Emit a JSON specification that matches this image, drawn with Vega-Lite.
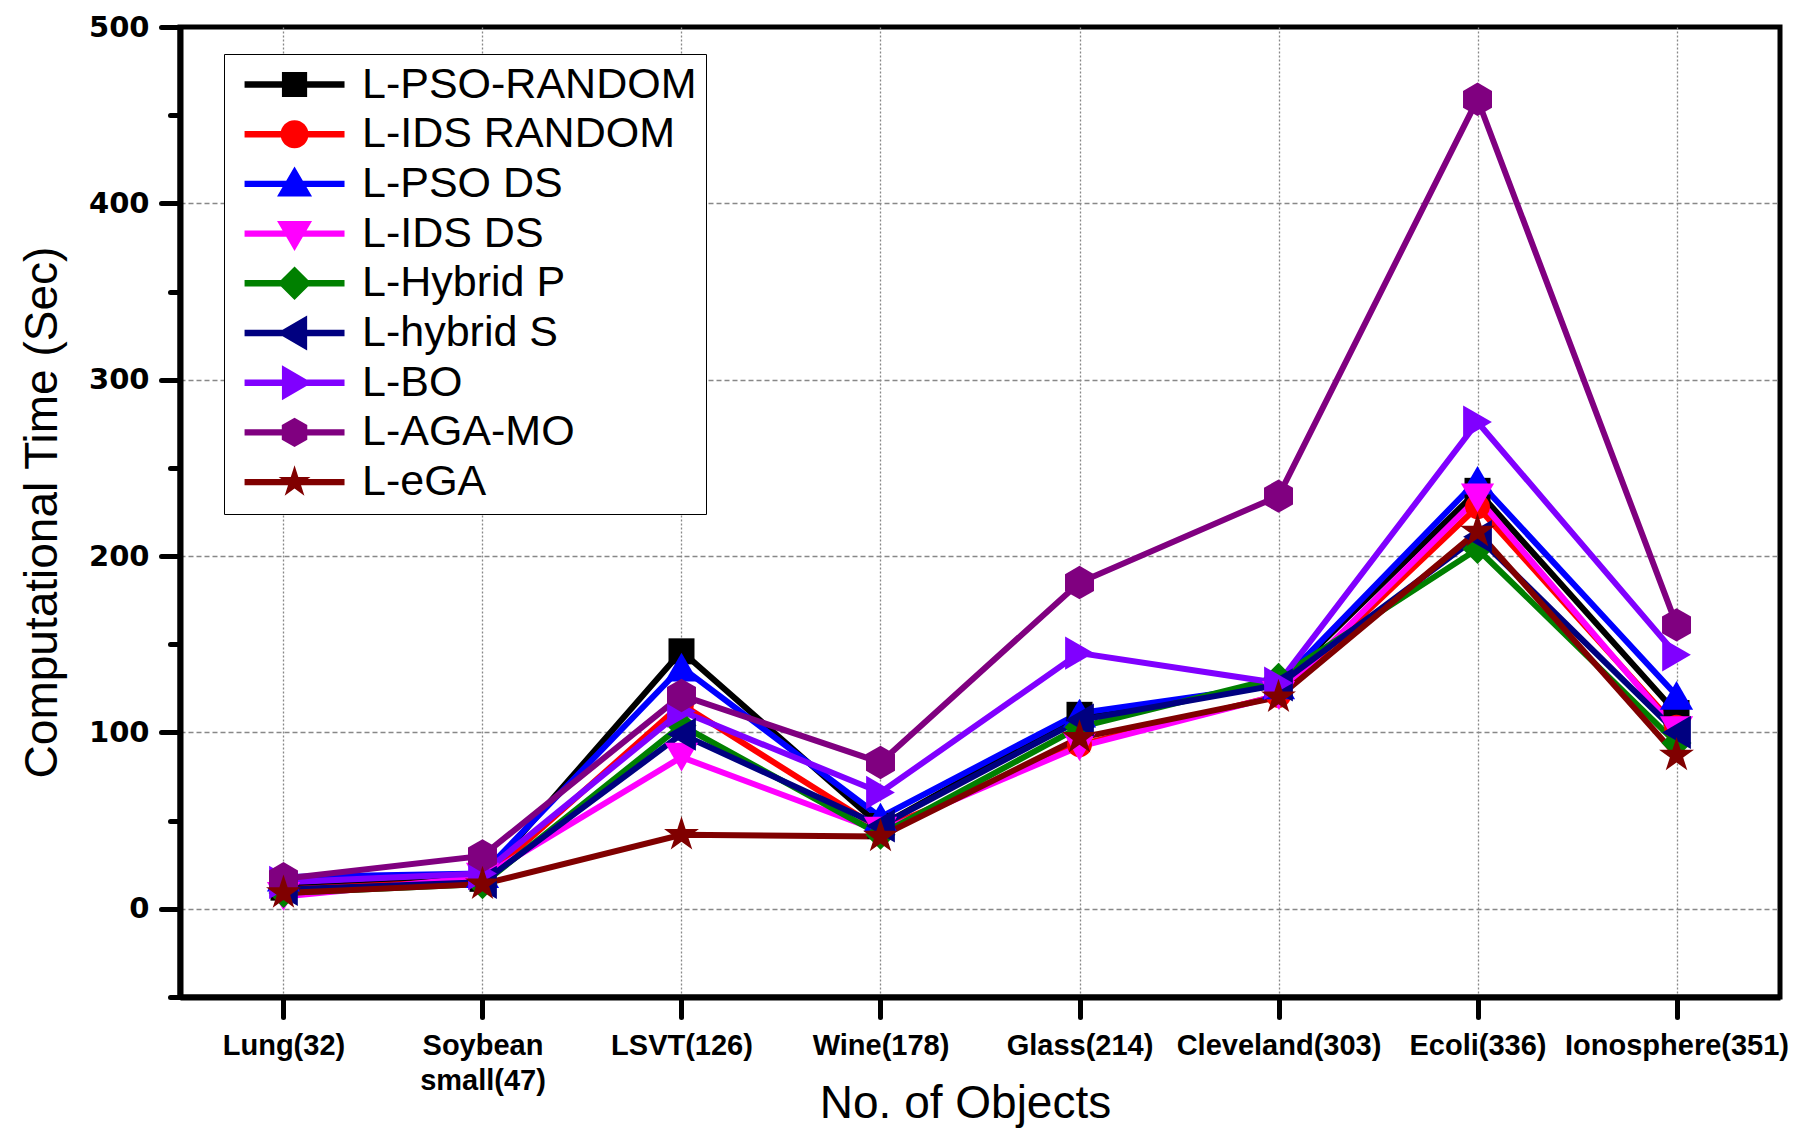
{
  "$schema": "https://vega.github.io/schema/vega-lite/v6.json",
  "autosize": "none",
  "width": 1600,
  "height": 970,
  "padding": {"left": 180, "top": 27, "right": 38, "bottom": 131},
  "background": "white",
  "config": {
    "view": {"stroke": "black", "strokeWidth": 5},
    "font": "Liberation Sans"
  },
  "data": {
    "values": [
      {"obj": "Lung(32)", "method": "L-PSO-RANDOM", "t": 12},
      {"obj": "Lung(32)", "method": "L-IDS RANDOM", "t": 11},
      {"obj": "Lung(32)", "method": "L-PSO DS", "t": 18},
      {"obj": "Lung(32)", "method": "L-IDS DS", "t": 7},
      {"obj": "Lung(32)", "method": "L-Hybrid P", "t": 9},
      {"obj": "Lung(32)", "method": "L-hybrid S", "t": 11},
      {"obj": "Lung(32)", "method": "L-BO", "t": 15},
      {"obj": "Lung(32)", "method": "L-AGA-MO", "t": 17},
      {"obj": "Lung(32)", "method": "L-eGA", "t": 9},
      {"obj": "Soybean small(47)", "method": "L-PSO-RANDOM", "t": 17},
      {"obj": "Soybean small(47)", "method": "L-IDS RANDOM", "t": 16},
      {"obj": "Soybean small(47)", "method": "L-PSO DS", "t": 20},
      {"obj": "Soybean small(47)", "method": "L-IDS DS", "t": 18},
      {"obj": "Soybean small(47)", "method": "L-Hybrid P", "t": 14},
      {"obj": "Soybean small(47)", "method": "L-hybrid S", "t": 15},
      {"obj": "Soybean small(47)", "method": "L-BO", "t": 20},
      {"obj": "Soybean small(47)", "method": "L-AGA-MO", "t": 30},
      {"obj": "Soybean small(47)", "method": "L-eGA", "t": 14},
      {"obj": "LSVT(126)", "method": "L-PSO-RANDOM", "t": 146},
      {"obj": "LSVT(126)", "method": "L-IDS RANDOM", "t": 116},
      {"obj": "LSVT(126)", "method": "L-PSO DS", "t": 137},
      {"obj": "LSVT(126)", "method": "L-IDS DS", "t": 86},
      {"obj": "LSVT(126)", "method": "L-Hybrid P", "t": 104},
      {"obj": "LSVT(126)", "method": "L-hybrid S", "t": 99},
      {"obj": "LSVT(126)", "method": "L-BO", "t": 112},
      {"obj": "LSVT(126)", "method": "L-AGA-MO", "t": 121},
      {"obj": "LSVT(126)", "method": "L-eGA", "t": 42},
      {"obj": "Wine(178)", "method": "L-PSO-RANDOM", "t": 47},
      {"obj": "Wine(178)", "method": "L-IDS RANDOM", "t": 45},
      {"obj": "Wine(178)", "method": "L-PSO DS", "t": 52},
      {"obj": "Wine(178)", "method": "L-IDS DS", "t": 44},
      {"obj": "Wine(178)", "method": "L-Hybrid P", "t": 42},
      {"obj": "Wine(178)", "method": "L-hybrid S", "t": 47},
      {"obj": "Wine(178)", "method": "L-BO", "t": 66},
      {"obj": "Wine(178)", "method": "L-AGA-MO", "t": 83},
      {"obj": "Wine(178)", "method": "L-eGA", "t": 41},
      {"obj": "Glass(214)", "method": "L-PSO-RANDOM", "t": 110},
      {"obj": "Glass(214)", "method": "L-IDS RANDOM", "t": 93},
      {"obj": "Glass(214)", "method": "L-PSO DS", "t": 111},
      {"obj": "Glass(214)", "method": "L-IDS DS", "t": 92},
      {"obj": "Glass(214)", "method": "L-Hybrid P", "t": 103},
      {"obj": "Glass(214)", "method": "L-hybrid S", "t": 107},
      {"obj": "Glass(214)", "method": "L-BO", "t": 145},
      {"obj": "Glass(214)", "method": "L-AGA-MO", "t": 185},
      {"obj": "Glass(214)", "method": "L-eGA", "t": 97},
      {"obj": "Cleveland(303)", "method": "L-PSO-RANDOM", "t": 127},
      {"obj": "Cleveland(303)", "method": "L-IDS RANDOM", "t": 121},
      {"obj": "Cleveland(303)", "method": "L-PSO DS", "t": 127},
      {"obj": "Cleveland(303)", "method": "L-IDS DS", "t": 121},
      {"obj": "Cleveland(303)", "method": "L-Hybrid P", "t": 131},
      {"obj": "Cleveland(303)", "method": "L-hybrid S", "t": 127},
      {"obj": "Cleveland(303)", "method": "L-BO", "t": 128},
      {"obj": "Cleveland(303)", "method": "L-AGA-MO", "t": 234},
      {"obj": "Cleveland(303)", "method": "L-eGA", "t": 120},
      {"obj": "Ecoli(336)", "method": "L-PSO-RANDOM", "t": 237},
      {"obj": "Ecoli(336)", "method": "L-IDS RANDOM", "t": 228},
      {"obj": "Ecoli(336)", "method": "L-PSO DS", "t": 243},
      {"obj": "Ecoli(336)", "method": "L-IDS DS", "t": 233},
      {"obj": "Ecoli(336)", "method": "L-Hybrid P", "t": 204},
      {"obj": "Ecoli(336)", "method": "L-hybrid S", "t": 211},
      {"obj": "Ecoli(336)", "method": "L-BO", "t": 276},
      {"obj": "Ecoli(336)", "method": "L-AGA-MO", "t": 459},
      {"obj": "Ecoli(336)", "method": "L-eGA", "t": 214},
      {"obj": "Ionosphere(351)", "method": "L-PSO-RANDOM", "t": 111},
      {"obj": "Ionosphere(351)", "method": "L-IDS RANDOM", "t": 103},
      {"obj": "Ionosphere(351)", "method": "L-PSO DS", "t": 121},
      {"obj": "Ionosphere(351)", "method": "L-IDS DS", "t": 101},
      {"obj": "Ionosphere(351)", "method": "L-Hybrid P", "t": 94},
      {"obj": "Ionosphere(351)", "method": "L-hybrid S", "t": 100},
      {"obj": "Ionosphere(351)", "method": "L-BO", "t": 144},
      {"obj": "Ionosphere(351)", "method": "L-AGA-MO", "t": 161},
      {"obj": "Ionosphere(351)", "method": "L-eGA", "t": 87}
    ]
  },
  "encoding": {
    "x": {
      "field": "obj", "type": "nominal", "sort": null,
      "scale": {"type": "point", "padding": 0.52},
      "axis": {
        "title": "No. of Objects",
        "titleFont": "Liberation Sans", "titleFontSize": 46, "titleFontWeight": "normal", "titleColor": "black",
        "titleBaseline": "top", "titleY": 84, "titleX": 785,
        "labelFont": "Liberation Sans", "labelFontSize": 29, "labelFontWeight": "bold", "labelColor": "black",
        "labelAngle": 0, "labelPadding": 14, "labelLineHeight": 35, "labelOverlap": false, "labelBaseline": "top",
        "labelLimit": 400,
        "labelExpr": "datum.label == 'Soybean small(47)' ? ['Soybean', 'small(47)'] : datum.label",
        "domainColor": "black", "domainWidth": 6,
        "tickColor": "black", "tickWidth": 5, "tickSize": 20, "tickCap": "round",
        "grid": true, "gridColor": "#888888", "gridDash": [2, 2], "gridWidth": 1.3
      }
    },
    "y": {
      "field": "t", "type": "quantitative",
      "scale": {"domain": [-50, 500], "nice": false, "zero": false},
      "axis": {
        "title": "Computational Time (Sec)",
        "titleFont": "Liberation Sans", "titleFontSize": 46, "titleFontWeight": "normal", "titleColor": "black",
        "titlePadding": 22,
        "values": [-50, 0, 50, 100, 150, 200, 250, 300, 350, 400, 450, 500],
        "labelExpr": "datum.value % 100 == 0 ? datum.label : ''",
        "labelFont": "DejaVu Sans", "labelFontSize": 29, "labelFontWeight": "bold", "labelColor": "black",
        "labelPadding": 12,
        "domainColor": "black", "domainWidth": 6,
        "tickColor": "black", "tickWidth": 5, "tickCap": "round",
        "tickSize": {"condition": {"test": "datum.value % 100 == 0", "value": 19}, "value": 10},
        "grid": true, "gridColor": "#888888", "gridDash": [5, 3], "gridWidth": 1.3,
        "gridOpacity": {"condition": {"test": "datum.value % 100 == 0 && datum.value >= 0 && datum.value < 500", "value": 1}, "value": 0}
      }
    }
  },
  "layer": [
    {
      "transform": [{"filter": "false"}],
      "mark": {"type": "point", "filled": true, "opacity": 1},
      "encoding": {
        "color": {"field": "method", "type": "nominal",
          "scale": {
            "domain": ["L-PSO-RANDOM", "L-IDS RANDOM", "L-PSO DS", "L-IDS DS", "L-Hybrid P", "L-hybrid S", "L-BO", "L-AGA-MO", "L-eGA"],
            "range": ["#000000", "#FF0000", "#0000FF", "#FF00FF", "#008000", "#000080", "#8000FF", "#800080", "#800000"]
          },
          "legend": {
            "orient": "none", "legendX": 44, "legendY": 27,
            "title": null, "padding": 9, "rowPadding": 5.7,
            "strokeColor": "black", "fillColor": "white",
            "symbolSize": 784, "symbolStrokeWidth": 0, "symbolOpacity": 1,
            "labelFont": "Liberation Sans", "labelFontSize": 43, "labelColor": "black",
            "labelOffset": 86, "labelLimit": 600
          }
        },
        "shape": {"field": "method", "type": "nominal",
          "scale": {
            "domain": ["L-PSO-RANDOM", "L-IDS RANDOM", "L-PSO DS", "L-IDS DS", "L-Hybrid P", "L-hybrid S", "L-BO", "L-AGA-MO", "L-eGA"],
            "range": [
              "M-0.71,-0.23H6.43V0.23H-0.71Z M1.96,-0.9H3.76V0.9H1.96Z",
              "M-0.71,-0.23H6.43V0.23H-0.71Z M3.86,0A1,1,0,1,1,1.86,0A1,1,0,1,1,3.86,0Z",
              "M-0.71,-0.23H6.43V0.23H-0.71Z M2.86,-1.25L4.11,0.9L1.61,0.9Z",
              "M-0.71,-0.23H6.43V0.23H-0.71Z M1.61,-0.9L4.11,-0.9L2.86,1.25Z",
              "M-0.71,-0.23H6.43V0.23H-0.71Z M2.86,-1.2L4.06,0L2.86,1.2L1.66,0Z",
              "M-0.71,-0.23H6.43V0.23H-0.71Z M1.61,0L3.76,-1.25L3.76,1.25Z",
              "M-0.71,-0.23H6.43V0.23H-0.71Z M1.96,-1.25L4.11,0L1.96,1.25Z",
              "M-0.71,-0.23H6.43V0.23H-0.71Z M2.86,-1.05L3.77,-0.525L3.77,0.525L2.86,1.05L1.95,0.525L1.95,-0.525Z",
              "M-0.71,-0.23H6.43V0.23H-0.71Z M2.86,-1.2L3.129,-0.371L4.001,-0.371L3.296,0.142L3.566,0.971L2.86,0.458L2.154,0.971L2.424,0.142L1.719,-0.371L2.591,-0.371Z"
            ]
          },
          "legend": {
            "orient": "none", "legendX": 44, "legendY": 27,
            "title": null, "padding": 9, "rowPadding": 5.7,
            "strokeColor": "black", "fillColor": "white",
            "symbolSize": 784, "symbolStrokeWidth": 0, "symbolOpacity": 1,
            "labelFont": "Liberation Sans", "labelFontSize": 43, "labelColor": "black",
            "labelOffset": 86, "labelLimit": 600
          }
        }
      }
    },
    {
      "mark": {"type": "line", "strokeWidth": 6, "strokeJoin": "miter"},
      "encoding": {
        "color": {"field": "method", "type": "nominal", "legend": null}
      }
    },
    {
      "transform": [{"filter": "datum.method == 'L-PSO-RANDOM'"}],
      "mark": {"type": "point", "shape": "square", "filled": true, "opacity": 1, "size": 676},
      "encoding": {"color": {"field": "method", "type": "nominal", "legend": null}}
    },
    {
      "transform": [{"filter": "datum.method == 'L-IDS RANDOM'"}],
      "mark": {"type": "point", "shape": "circle", "filled": true, "opacity": 1, "size": 620},
      "encoding": {"color": {"field": "method", "type": "nominal", "legend": null}}
    },
    {
      "transform": [{"filter": "datum.method == 'L-PSO DS'"}],
      "mark": {"type": "point", "shape": "triangle-up", "filled": true, "opacity": 1, "size": 1100},
      "encoding": {"color": {"field": "method", "type": "nominal", "legend": null}}
    },
    {
      "transform": [{"filter": "datum.method == 'L-IDS DS'"}],
      "mark": {"type": "point", "shape": "triangle-down", "filled": true, "opacity": 1, "size": 1100},
      "encoding": {"color": {"field": "method", "type": "nominal", "legend": null}}
    },
    {
      "transform": [{"filter": "datum.method == 'L-Hybrid P'"}],
      "mark": {"type": "point", "shape": "diamond", "filled": true, "opacity": 1, "size": 900},
      "encoding": {"color": {"field": "method", "type": "nominal", "legend": null}}
    },
    {
      "transform": [{"filter": "datum.method == 'L-hybrid S'"}],
      "mark": {"type": "point", "shape": "triangle-left", "filled": true, "opacity": 1, "size": 1100},
      "encoding": {"color": {"field": "method", "type": "nominal", "legend": null}}
    },
    {
      "transform": [{"filter": "datum.method == 'L-BO'"}],
      "mark": {"type": "point", "shape": "triangle-right", "filled": true, "opacity": 1, "size": 1100},
      "encoding": {"color": {"field": "method", "type": "nominal", "legend": null}}
    },
    {
      "transform": [{"filter": "datum.method == 'L-AGA-MO'"}],
      "mark": {"type": "point", "shape": "M0,-1L0.866,-0.5L0.866,0.5L0,1L-0.866,0.5L-0.866,-0.5Z", "filled": true, "opacity": 1, "size": 1120},
      "encoding": {"color": {"field": "method", "type": "nominal", "legend": null}}
    },
    {
      "transform": [{"filter": "datum.method == 'L-eGA'"}],
      "mark": {"type": "point", "shape": "M0,-1L0.2245,-0.309L0.951,-0.309L0.363,0.118L0.588,0.809L0,0.382L-0.588,0.809L-0.363,0.118L-0.951,-0.309L-0.2245,-0.309Z", "filled": true, "opacity": 1, "size": 1350},
      "encoding": {"color": {"field": "method", "type": "nominal", "legend": null}}
    }
  ]
}
